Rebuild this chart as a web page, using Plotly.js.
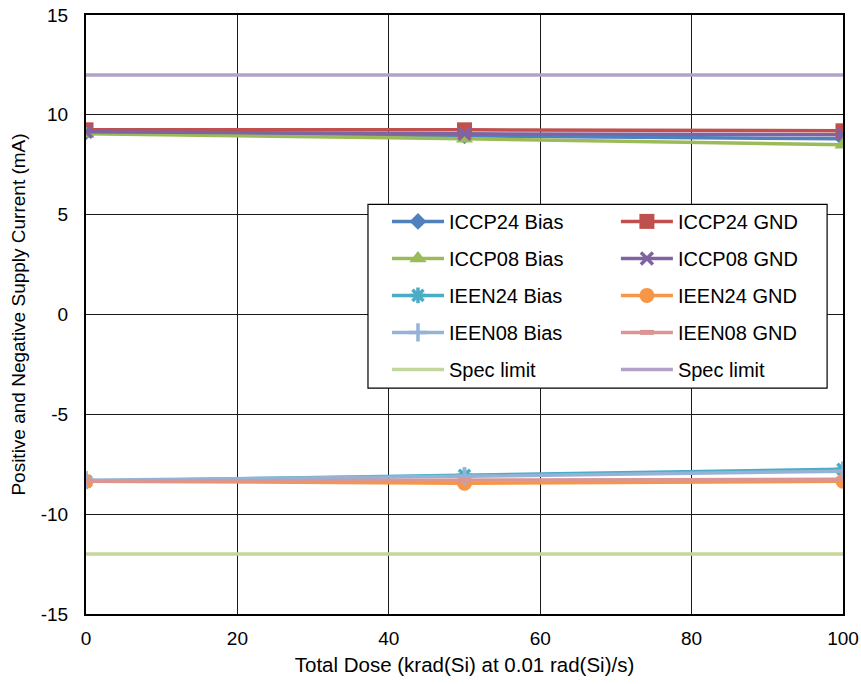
<!DOCTYPE html>
<html>
<head>
<meta charset="utf-8">
<script src="https://cdn.plot.ly/plotly-3.0.1.min.js"></script>
<style>html,body{margin:0;padding:0;background:#fff;}#chart{width:861px;height:684px;}</style>
</head>
<body>
<div id="chart"></div>
<script>
const dose = [0, 50, 100];
const iccp24Bias = [9.15, 8.95, 8.8];
const iccp24Gnd = [9.25, 9.25, 9.2];
const iccp08Bias = [9.05, 8.8, 8.5];
const iccp08Gnd = [9.15, 9.05, 9.0];
const ieen24Bias = [-8.35, -8.05, -7.75];
const ieen24Gnd = [-8.35, -8.45, -8.35];
const ieen08Bias = [-8.3, -8.1, -7.85];
const ieen08Gnd = [-8.35, -8.3, -8.25];
const specX = [0, 100];
const specLow = [-12, -12];
const specHigh = [12, 12];
const yTickVals = [-15, -10, -5, 0, 5, 10, 15];
const yTickText = ['-15', '-10', '-5', '0', '5', '10', '15'];
const xTickVals = [0, 20, 40, 60, 80, 100];
const xTickText = ['0', '20', '40', '60', '80', '100'];

function tr(name, y, color, symbol, size, legend, extra) {
  return {
    x: dose, y: y, name: name, type: 'scatter', mode: 'lines+markers',
    line: {color: color, width: 3.5},
    marker: Object.assign({color: color, symbol: symbol, size: size}, extra || {}),
    legend: legend, legendgroup: name
  };
}

const data = [
  tr('ICCP24 Bias', iccp24Bias, '#4f81bd', 'diamond', 13, 'legend'),
  tr('ICCP24 GND', iccp24Gnd, '#c0504d', 'square', 15, 'legend2'),
  tr('ICCP08 Bias', iccp08Bias, '#9bbb59', 'triangle-up', 15, 'legend'),
  tr('ICCP08 GND', iccp08Gnd, '#8064a2', 'x-thin-open', 12, 'legend2', {line: {color: '#8064a2', width: 3.5}}),
  tr('IEEN24 Bias', ieen24Bias, '#4bacc6', 'asterisk-open', 13, 'legend', {line: {color: '#4bacc6', width: 3.5}}),
  tr('IEEN24 GND', ieen24Gnd, '#f79646', 'circle', 15, 'legend2'),
  tr('IEEN08 Bias', ieen08Bias, '#95b3d7', 'cross-thin-open', 13, 'legend', {line: {color: '#95b3d7', width: 3.5}}),
  tr('IEEN08 GND', ieen08Gnd, '#d99694', 'line-ew-open', 10, 'legend2', {line: {color: '#d99694', width: 5}}),
  {x: specX, y: specLow, name: 'Spec limit', type: 'scatter', mode: 'lines', line: {color: '#c3d69b', width: 3.5}, legend: 'legend', legendgroup: 'specLow'},
  {x: specX, y: specHigh, name: 'Spec limit', type: 'scatter', mode: 'lines', line: {color: '#b3a2c7', width: 3.5}, legend: 'legend2', legendgroup: 'specHigh'}
];

const fontFam = 'Arial, "Liberation Sans", sans-serif';
const legendCommon = {
  bgcolor: 'rgba(0,0,0,0)', borderwidth: 0,
  font: {family: fontFam, size: 20, color: '#000'},
  xanchor: 'left', yanchor: 'top', traceorder: 'grouped', tracegroupgap: 8,
  itemwidth: 52, itemclick: false, itemdoubleclick: false
};

const layout = {
  width: 861, height: 684,
  margin: {l: 86, r: 18, t: 15, b: 70},
  paper_bgcolor: '#fff', plot_bgcolor: '#fff',
  font: {family: fontFam, size: 19, color: '#000'},
  showlegend: true,
  xaxis: {
    range: [0, 100], tickmode: 'array', tickvals: xTickVals, ticktext: xTickText,
    showgrid: true, gridcolor: '#1a1a1a', gridwidth: 1,
    showline: true, linecolor: '#000', linewidth: 2, mirror: true,
    zeroline: false, ticks: '', ticklen: 0, automargin: false, ticklabelstandoff: 6,
    tickfont: {family: fontFam, size: 19, color: '#000'},
    title: {text: 'Total Dose (krad(Si) at 0.01 rad(Si)/s)', font: {family: fontFam, size: 20.5, color: '#000'}, standoff: 10}
  },
  yaxis: {
    range: [-15, 15], tickmode: 'array', tickvals: yTickVals, ticktext: yTickText,
    showgrid: true, gridcolor: '#1a1a1a', gridwidth: 1,
    showline: true, linecolor: '#000', linewidth: 2, mirror: true,
    zeroline: false, ticks: '', ticklen: 0, automargin: false, ticklabelstandoff: 12,
    tickfont: {family: fontFam, size: 19, color: '#000'},
    title: {text: 'Positive and Negative Supply Current (mA)', font: {family: fontFam, size: 19, color: '#000'}, standoff: 10}
  },
  legend: Object.assign({}, legendCommon, {x: 0.3976, y: 0.688}),
  legend2: Object.assign({}, legendCommon, {x: 0.700, y: 0.688}),
  shapes: [{
    type: 'rect', xref: 'paper', yref: 'paper', layer: 'above',
    x0: 0.3725, x1: 0.979, y0: 0.377, y1: 0.684,
    line: {color: '#000', width: 1.2}, fillcolor: '#fff'
  }]
};

Plotly.newPlot('chart', data, layout, {staticPlot: true, displayModeBar: false});
</script>
</body>
</html>
